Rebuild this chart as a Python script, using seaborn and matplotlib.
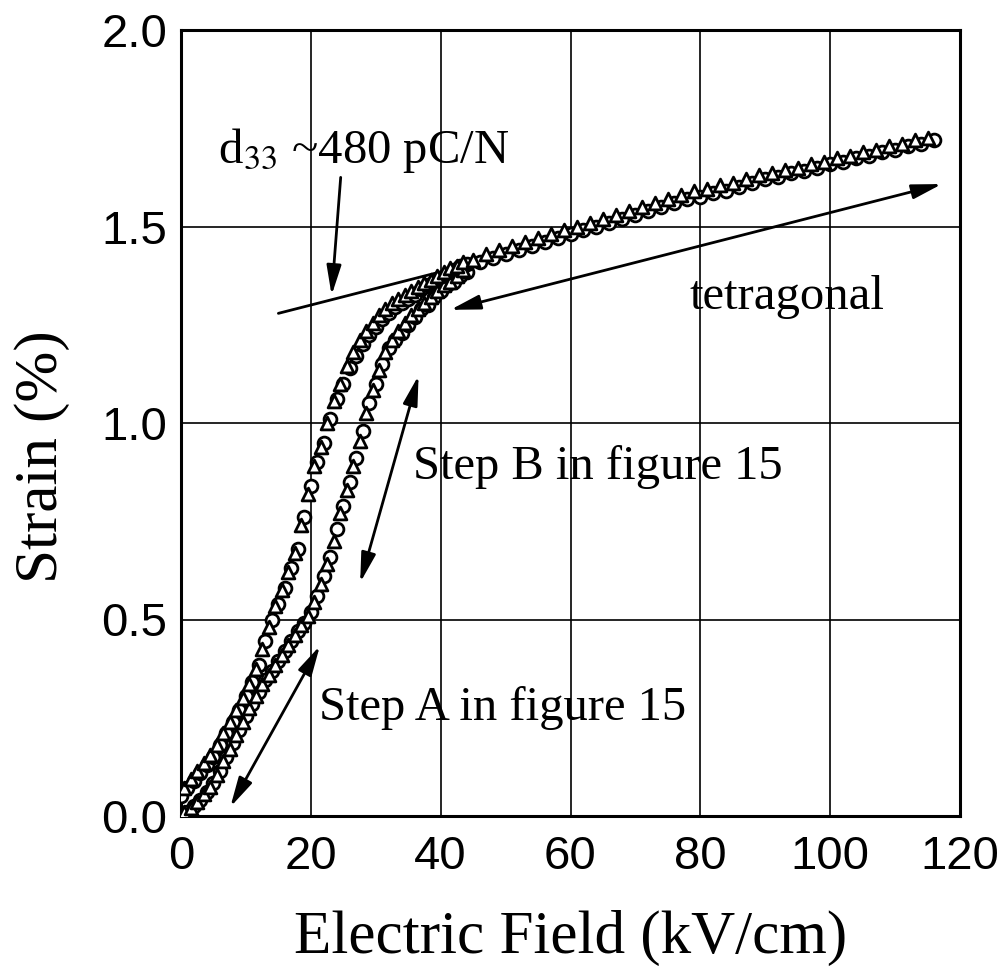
import numpy as np
import pandas as pd
import matplotlib
matplotlib.use("Agg")
import matplotlib.pyplot as plt
import seaborn as sns

# ---------------- data ----------------
# circles: low-field part of the loop, E = 0..44 kV/cm (step 1)
circ_low_E = list(range(0, 45))
circ_rise = [0.00, 0.01, 0.025, 0.04, 0.06, 0.085, 0.115, 0.15, 0.185, 0.22,
             0.255, 0.285, 0.315, 0.345, 0.37, 0.395, 0.42, 0.445, 0.47, 0.49,
             0.52, 0.56, 0.61, 0.66, 0.73, 0.79, 0.85, 0.91, 0.98, 1.05,
             1.10, 1.15, 1.19, 1.21, 1.23, 1.25, 1.27, 1.29, 1.30, 1.32,
             1.335, 1.35, 1.36, 1.375, 1.385]
circ_fall = [0.05, 0.07, 0.09, 0.11, 0.13, 0.15, 0.18, 0.21, 0.24, 0.27,
             0.305, 0.34, 0.385, 0.445, 0.50, 0.54, 0.58, 0.63, 0.68, 0.76,
             0.84, 0.90, 0.95, 1.01, 1.06, 1.10, 1.14, 1.17, 1.20, 1.225,
             1.245, 1.265, 1.28, 1.295, 1.305, 1.315, 1.325, 1.34, 1.35, 1.36,
             1.37, 1.38, 1.39, 1.40, 1.405]
# circles: high-field part, E = 46..116 (step 2)
circ_high_E = list(range(46, 117, 2))
circ_high = [1.41, 1.42, 1.43, 1.44, 1.45, 1.46, 1.47, 1.48, 1.49, 1.50,
             1.51, 1.52, 1.53, 1.54, 1.55, 1.56, 1.57, 1.575, 1.585, 1.59,
             1.60, 1.61, 1.62, 1.625, 1.635, 1.64, 1.65, 1.66, 1.665, 1.675,
             1.68, 1.69, 1.695, 1.705, 1.71, 1.72]

# triangles: low-field part, E = 0.5..43.5 kV/cm (step 1)
tri_low_E = [0.5, 1.5, 2.5, 3.5, 4.5, 5.5, 6.5, 7.5, 8.5, 9.5,
             10.5, 11.5, 12.5, 13.5, 14.5, 15.5, 16.5, 17.5, 18.5, 19.5,
             20.5, 21.5, 22.5, 23.5, 24.5, 25.5, 26.5, 27.5, 28.5, 29.5,
             30.5, 31.5, 32.5, 33.5, 34.5, 35.5, 36.5, 37.5, 38.5, 39.5,
             40.5, 41.5, 42.5, 43.5]
tri_rise = [0.01, 0.02, 0.035, 0.055, 0.075, 0.105, 0.14, 0.17, 0.205, 0.24,
            0.275, 0.305, 0.335, 0.36, 0.385, 0.41, 0.435, 0.46, 0.485, 0.51,
            0.545, 0.59, 0.64, 0.70, 0.77, 0.83, 0.89, 0.955, 1.025, 1.085,
            1.135, 1.18, 1.21, 1.235, 1.255, 1.275, 1.29, 1.305, 1.32, 1.335,
            1.35, 1.36, 1.375, 1.39]
tri_fall = [0.07, 0.095, 0.115, 0.135, 0.155, 0.18, 0.21, 0.24, 0.27, 0.30,
            0.335, 0.375, 0.425, 0.48, 0.535, 0.575, 0.62, 0.67, 0.74, 0.82,
            0.89, 0.94, 1.00, 1.055, 1.10, 1.145, 1.18, 1.21, 1.235, 1.255,
            1.275, 1.29, 1.305, 1.315, 1.325, 1.335, 1.345, 1.355, 1.365, 1.375,
            1.385, 1.395, 1.40, 1.41]
# triangles: high-field part, E = 45..115 (step 2)
tri_high_E = list(range(45, 116, 2))
tri_high = [1.415, 1.43, 1.44, 1.45, 1.46, 1.47, 1.48, 1.49, 1.50, 1.51,
            1.52, 1.53, 1.54, 1.55, 1.56, 1.57, 1.58, 1.59, 1.595, 1.605,
            1.61, 1.62, 1.63, 1.635, 1.645, 1.65, 1.66, 1.665, 1.675, 1.68,
            1.69, 1.695, 1.705, 1.71, 1.72, 1.725]

x_ticks = [0, 20, 40, 60, 80, 100, 120]
x_ticklabels = ["0", "20", "40", "60", "80", "100", "120"]
y_ticks = [0.0, 0.5, 1.0, 1.5, 2.0]
y_ticklabels = ["0.0", "0.5", "1.0", "1.5", "2.0"]

# ---------------- table ----------------
frames = []
for E, S in [(circ_low_E, circ_rise), (circ_low_E, circ_fall), (circ_high_E, circ_high)]:
    frames.append(pd.DataFrame({"E": E, "S": S, "series": "circle"}))
for E, S in [(tri_low_E, tri_rise), (tri_low_E, tri_fall), (tri_high_E, tri_high)]:
    frames.append(pd.DataFrame({"E": E, "S": S, "series": "triangle"}))
df = pd.concat(frames, ignore_index=True)

# ---------------- style ----------------
sns.set_style("white")
plt.rcParams["font.family"] = ["Liberation Sans", "DejaVu Sans"]
plt.rcParams["mathtext.fontset"] = "stix"
plt.rcParams["text.color"] = "black"
plt.rcParams["axes.labelcolor"] = "black"
plt.rcParams["xtick.color"] = "black"
plt.rcParams["ytick.color"] = "black"

SERIF = ["Liberation Serif", "DejaVu Serif"]

fig = plt.figure(figsize=(10.07, 9.76), dpi=100)
ax = fig.add_axes([181 / 1007, 1 - 816 / 976, (960 - 181) / 1007, (816 - 30) / 976])

# grid
for gx in [20, 40, 60, 80, 100]:
    ax.axvline(gx, color="black", lw=1.2, zorder=1)
for gy in [0.5, 1.0, 1.5]:
    ax.axhline(gy, color="black", lw=1.2, zorder=1)

sns.scatterplot(data=df[df.series == "circle"], x="E", y="S", marker="o",
                s=85, color="white", edgecolor="black", linewidth=2.0,
                legend=False, ax=ax, zorder=3)
sns.scatterplot(data=df[df.series == "triangle"], x="E", y="S", marker="^",
                s=85, color="white", edgecolor="black", linewidth=2.0,
                legend=False, ax=ax, zorder=4)

ax.set_xlim(0, 120)
ax.set_ylim(0, 2.0)
ax.set_xticks(x_ticks)
ax.set_xticklabels(x_ticklabels)
ax.set_yticks(y_ticks)
ax.set_yticklabels(y_ticklabels)
ax.set_xticks(np.arange(10, 120, 20), minor=True)
ax.set_yticks(np.arange(0.25, 2.0, 0.5), minor=True)
ax.tick_params(axis="both", which="major", direction="in", length=10, width=1.5,
               labelsize=34, pad=10, colors="black")
ax.tick_params(axis="both", which="minor", direction="in", length=8, width=1.5)
ax.tick_params(axis="x", which="major", pad=14)
for sp in ax.spines.values():
    sp.set_linewidth(2.2)
    sp.set_color("black")

ax.set_xlabel("Electric Field (kV/cm)", fontsize=44, family=SERIF, labelpad=22)
ax.set_ylabel("Strain (%)", fontsize=44, family=SERIF)
ax.yaxis.set_label_coords(-0.143, 0.457)

# slope line (d33)
ax.plot([15.0, 46.0], [1.279, 1.41], color="black", lw=2.0, zorder=2)

arrow_kw = dict(arrowstyle="<|-|>,head_length=0.9,head_width=0.22",
                color="black", lw=2.0, shrinkA=0, shrinkB=0, mutation_scale=20)
single_kw = dict(arrowstyle="-|>,head_length=0.9,head_width=0.22",
                 color="black", lw=2.0, shrinkA=0, shrinkB=0, mutation_scale=20)

ax.annotate("", xy=(23.2, 1.325), xytext=(24.6, 1.625), arrowprops=single_kw, zorder=5)
ax.annotate("", xy=(41.5, 1.288), xytext=(117.2, 1.608), arrowprops=arrow_kw, zorder=5)
ax.annotate("", xy=(27.6, 0.594), xytext=(36.6, 1.121), arrowprops=arrow_kw, zorder=5)
ax.annotate("", xy=(7.6, 0.023), xytext=(21.4, 0.433), arrowprops=arrow_kw, zorder=5)

ax.text(5.7, 1.661, r"d$_{33}$ ~480 pC/N", fontsize=35, family=SERIF,
        ha="left", va="baseline", zorder=6)
ax.text(78.3, 1.32, "tetragonal", fontsize=35, family=SERIF,
        ha="left", va="center", zorder=6)
ax.text(35.8, 0.887, "Step B in figure 15", fontsize=35, family=SERIF,
        ha="left", va="center", zorder=6)
ax.text(21.2, 0.275, "Step A in figure 15", fontsize=35, family=SERIF,
        ha="left", va="center", zorder=6)

fig.savefig("out.png", dpi=100)
